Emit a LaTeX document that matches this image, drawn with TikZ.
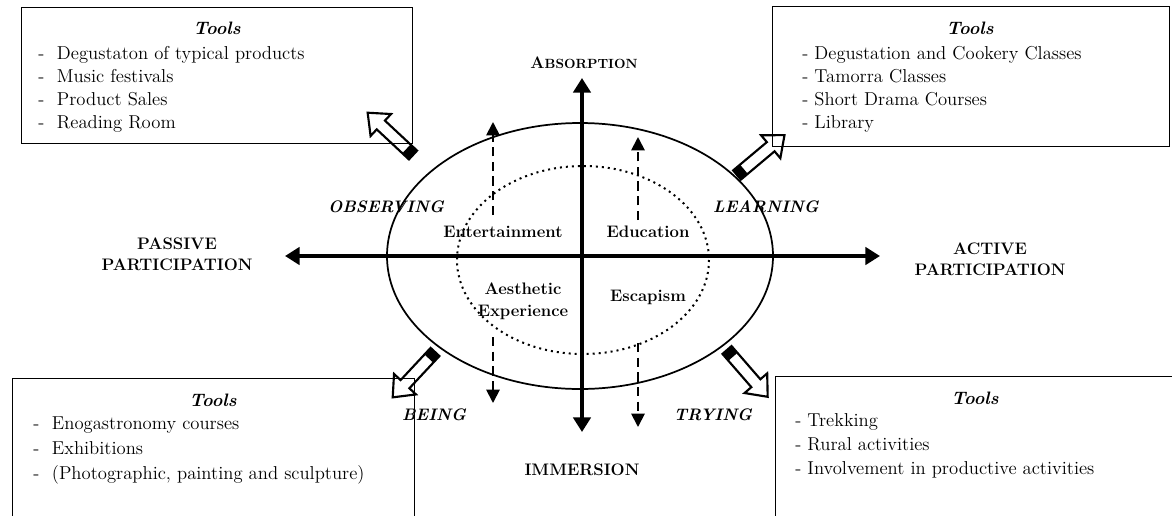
\documentclass[tikz,border=0pt]{standalone}
\usetikzlibrary{arrows.meta}
\tikzset{
  toolbox/.style={line width=0.6pt},
  toolhead/.style={font=\fontsize{13.5}{16}\selectfont\bfseries\itshape, inner sep=0pt},
  toollist/.style={font=\fontsize{14}{17.25}\selectfont, align=left, anchor=north west, inner sep=0pt},
  axis/.style={line width=3pt, {Triangle[length=11pt,width=13pt]}-{Triangle[length=11pt,width=13pt]}},
  dasharrow/.style={line width=1.4pt, dash pattern=on 7pt off 4pt, -{Triangle[length=10pt,width=10pt]}},
  pole/.style={font=\fontsize{12.5}{16}\selectfont\bfseries, align=center, inner sep=0pt},
  verb/.style={font=\fontsize{12.5}{16}\selectfont\bfseries\itshape, inner sep=0pt},
  realm/.style={font=\fontsize{12.5}{16.5}\selectfont\bfseries, align=center, inner sep=0pt}
}
\newcommand{\dash}[1]{\makebox[14pt][l]{-}#1}
% open block arrow with a black band at its tail
\newcommand{\toolarrow}[2]{%
  \begin{scope}[shift={(#1)}, rotate=#2]
    \fill (0,-6) rectangle (9,6);
    \draw[line width=1.6pt, line join=miter]
      (0,-6) -- (44,-6) -- (44,-15) -- (62,0) -- (44,15) -- (44,6) -- (0,6) -- cycle;
  \end{scope}}

\begin{document}
\begin{tikzpicture}[x=0.75pt, y=-0.75pt]
\useasboundingbox (0,0) rectangle (1172,515);
%
% the four boxes
\draw[toolbox] (21,7) rectangle (412,143);
\node[toolhead] (tl) at (217,28) {Tools};
\node[toollist] (tlist) at (38,46) {\dash{Degustaton of typical products}\\
  \dash{Music festivals}\\ \dash{Product Sales}\\ \dash{Reading Room}};
\draw[toolbox] (772,6) rectangle (1169,146);
\node[toolhead] (tr) at (970,28) {Tools};
\node[toollist] (trlist) at (802,46) {- Degustation and Cookery Classes\\
  - Tamorra Classes\\ - Short Drama Courses\\ - Library};
\draw[toolbox] (12,520) -- (12,378) -- (414,378) -- (414,520);
\node[toolhead] (bl) at (213,400) {Tools};
\node[toollist, font=\fontsize{14}{18.75}\selectfont] (bllist) at (33,417) {\dash{Enogastronomy courses}\\
  \dash{Exhibitions}\\ \dash{(Photographic, painting and sculpture)}};
\draw[toolbox] (775,520) -- (775,376) -- (1175,376);
\node[toolhead] (br) at (975,398) {Tools};
\node[toollist, font=\fontsize{14}{18}\selectfont] (brlist) at (795,413) {- Trekking\\
  - Rural activities\\ - Involvement in productive activities};
%
% ellipses and axes
\coordinate (ctr) at (582,256);
\draw[line width=1.3pt] (580,256) ellipse [x radius=193, y radius=133];
\draw[line width=1.5pt, dash pattern=on 1.5pt off 3pt] (583,260) ellipse [x radius=126, y radius=94];
\coordinate (west) at (285,256);
\coordinate (east) at (880,256);
\coordinate (north) at (582,78);
\coordinate (south) at (582,432);
\draw[axis] (west) -- (east);
\draw[axis] (south) -- (north);
%
\draw[dasharrow] (493,215) -- (493,122);
\draw[dasharrow] (493,337) -- (493,403);
\draw[dasharrow] (638,220) -- (638,137);
\draw[dasharrow] (638,343) -- (638,427);
%
\toolarrow{413,155}{137}
\toolarrow{737,175}{40}
\toolarrow{435,352}{227}
\toolarrow{727,350}{-49}
%
\node[pole] (absorp) at (584,63) {A{\fontsize{10}{12}\selectfont BSORPTION}};
\node[pole] (immers) at (582,470) {IMMERSION};
\node[pole] (passive) at (177,254) {PASSIVE\\PARTICIPATION};
\node[pole] (active) at (990,259) {ACTIVE\\PARTICIPATION};
\node[verb] (obs) at (386,207) {OBSERVING};
\node[verb] (learn) at (766,207) {LEARNING};
\node[verb] (being) at (434,415) {BEING};
\node[verb] (trying) at (713,415) {TRYING};
\node[realm] (entert) at (503,232) {Entertainment};
\node[realm] (educ) at (648,232) {Education};
\node[realm] (aesth) at (523,301) {Aesthetic\\Experience};
\node[realm] (escap) at (648,297) {Escapism};
\end{tikzpicture}
\end{document}
